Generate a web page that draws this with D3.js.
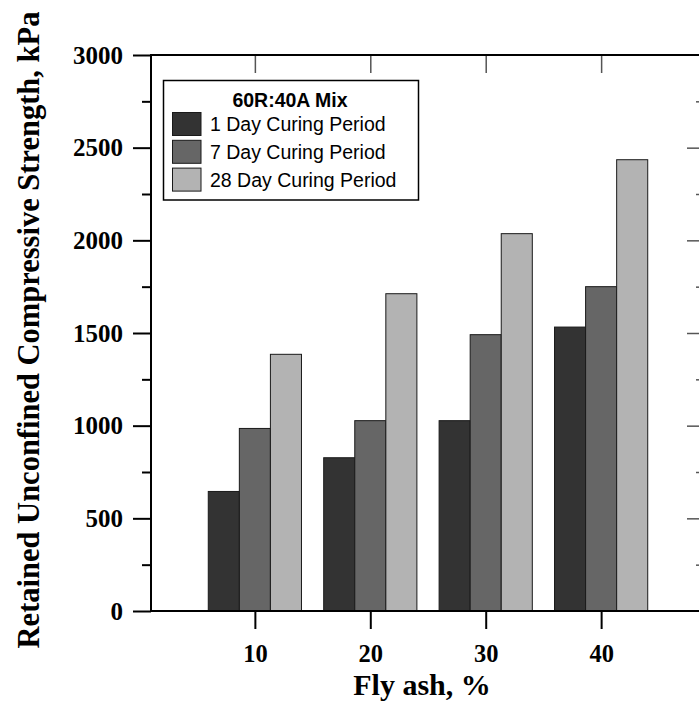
<!DOCTYPE html>
<html>
<head>
<meta charset="utf-8">
<script src="https://cdn.jsdelivr.net/npm/d3@7"></script>
<style>
  html, body { margin: 0; padding: 0; background: #ffffff; }
  svg { display: block; }
</style>
</head>
<body>
<svg id="chart" width="699" height="705"></svg>
<script>
// Fly ash content (%) on the x axis
const categories = [10, 20, 30, 40];
// Curing periods shown as the three bars in each group
const series = ["1 Day Curing Period", "7 Day Curing Period", "28 Day Curing Period"];
// Retained unconfined compressive strength (kPa) for each curing period
const day1 = [645, 827, 1027, 1532];
const day7 = [985, 1027, 1491, 1750];
const day28 = [1385, 1712, 2036, 2435];
const yMajorTicks = [0, 500, 1000, 1500, 2000, 2500, 3000];
const yMinorTicks = [250, 750, 1250, 1750, 2250, 2750];
const legendTitle = "60R:40A Mix";
const xTitle = "Fly ash, %";
const yTitle = "Retained Unconfined Compressive Strength, kPa";

const seriesValues = [day1, day7, day28];
const colors = ["#333333", "#666666", "#b3b3b3"];

const svg = d3.select("#chart");
const plotLeft = 151, plotRight = 705, plotTop = 55, plotBottom = 611;
const serif = "'Liberation Serif', 'Times New Roman', serif";
const sans = "'Liberation Sans', Arial, sans-serif";

const x = d3.scaleLinear().domain([1, 49]).range([plotLeft, plotRight]);
const y = d3.scaleLinear().domain([0, 3000]).range([plotBottom, plotTop]);
const groupHalf = 46.6;

// Bars
const rows = categories.map((c, i) => ({ c, vals: seriesValues.map(s => s[i]) }));
const groups = svg.append("g").selectAll("g").data(rows).join("g");
groups.each(function (d) {
  const sub = d3.scaleBand().domain(d3.range(series.length))
    .range([x(d.c) - groupHalf, x(d.c) + groupHalf]);
  d3.select(this).selectAll("rect").data(d.vals).join("rect")
    .attr("x", (v, j) => sub(j))
    .attr("y", v => y(v))
    .attr("width", sub.bandwidth())
    .attr("height", v => y(0) - y(v))
    .attr("fill", (v, j) => colors[j])
    .attr("stroke", "#1a1a1a")
    .attr("stroke-width", 1);
});

function styleAxis(g, labels, size) {
  g.select(".domain").remove();
  g.selectAll(".tick line").attr("stroke", "#000").attr("stroke-width", 2);
  if (labels) {
    g.selectAll(".tick text").attr("font-family", serif).attr("font-weight", "bold")
      .attr("font-size", size).attr("fill", "#000");
  } else {
    g.selectAll(".tick text").remove();
  }
}
function greyTicks(g) {
  g.selectAll(".tick line").attr("stroke", "#555").attr("stroke-width", 1.5);
}

// Left axis: major ticks with labels, minor ticks without
svg.append("g").attr("transform", `translate(${plotLeft},0)`)
  .call(d3.axisLeft(y).tickValues(yMajorTicks).tickSize(18).tickPadding(10).tickFormat(d3.format("d")))
  .call(g => styleAxis(g, true, 25));
svg.append("g").attr("transform", `translate(${plotLeft},0)`)
  .call(d3.axisLeft(y).tickValues(yMinorTicks).tickSize(9))
  .call(g => styleAxis(g, false));

// Right axis: ticks pointing inward
svg.append("g").attr("transform", `translate(${plotRight},0)`)
  .call(d3.axisLeft(y).tickValues(yMajorTicks.slice(1, -1)).tickSize(18))
  .call(g => { styleAxis(g, false); greyTicks(g); });
svg.append("g").attr("transform", `translate(${plotRight},0)`)
  .call(d3.axisLeft(y).tickValues(yMinorTicks).tickSize(9))
  .call(g => { styleAxis(g, false); greyTicks(g); });

// Bottom axis
svg.append("g").attr("transform", `translate(0,${plotBottom})`)
  .call(d3.axisBottom(x).tickValues(categories).tickSize(18).tickFormat(d3.format("d")))
  .call(g => styleAxis(g, true, 24.5))
  .call(g => g.selectAll(".tick text").attr("y", 51).attr("dy", null));

// Top axis: ticks pointing down into the plot
svg.append("g").attr("transform", `translate(0,${plotTop})`)
  .call(d3.axisBottom(x).tickValues(categories).tickSize(18))
  .call(g => { styleAxis(g, false); greyTicks(g); });

// Frame
svg.append("path")
  .attr("d", `M${plotLeft},${plotTop}H${plotRight}V${plotBottom}H${plotLeft}Z`)
  .attr("fill", "none").attr("stroke", "#000").attr("stroke-width", 2);

// Legend
const lg = svg.append("g");
lg.append("rect").attr("x", 163.5).attr("y", 80.5).attr("width", 255).attr("height", 119.5)
  .attr("fill", "#fff").attr("stroke", "#000").attr("stroke-width", 1.5);
lg.append("text").attr("x", 290).attr("y", 107).attr("text-anchor", "middle")
  .attr("font-family", sans).attr("font-weight", "bold").attr("font-size", 19.5)
  .text(legendTitle);
series.forEach((s, i) => {
  const yy = 112.5 + i * 27.8;
  lg.append("rect").attr("x", 172.5).attr("y", yy).attr("width", 28.5).attr("height", 23)
    .attr("fill", colors[i]).attr("stroke", "#1a1a1a").attr("stroke-width", 1);
  lg.append("text").attr("x", 210).attr("y", yy + 18.5)
    .attr("font-family", sans).attr("font-size", 19.5).attr("fill", "#000")
    .text(s);
});

// Axis titles
svg.append("text").attr("x", 422).attr("y", 695).attr("text-anchor", "middle")
  .attr("font-family", serif).attr("font-weight", "bold").attr("font-size", 30)
  .text(xTitle);
svg.append("text").attr("transform", "translate(39,330) rotate(-90)").attr("text-anchor", "middle")
  .attr("font-family", serif).attr("font-weight", "bold").attr("font-size", 30.5)
  .text(yTitle);
</script>
</body>
</html>
